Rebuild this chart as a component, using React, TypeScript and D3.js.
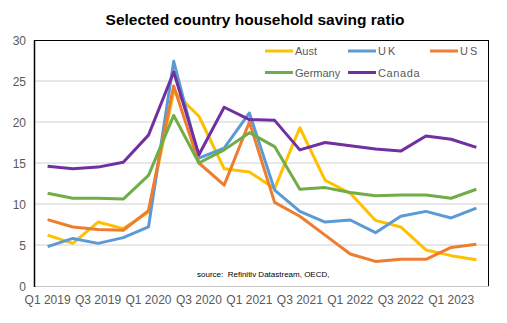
import React from "react";
import * as d3 from "d3";

const quarters = [
  "Q1 2019", "Q2 2019", "Q3 2019", "Q4 2019",
  "Q1 2020", "Q2 2020", "Q3 2020", "Q4 2020",
  "Q1 2021", "Q2 2021", "Q3 2021", "Q4 2021",
  "Q1 2022", "Q2 2022", "Q3 2022", "Q4 2022",
  "Q1 2023", "Q2 2023",
];

const aust = [6.2, 5.2, 7.8, 7.0, 9.0, 23.7, 20.7, 14.3, 13.9, 11.9, 19.3, 12.9, 11.3, 8.0, 7.2, 4.4, 3.7, 3.2];
const uk = [4.8, 5.8, 5.2, 5.9, 7.2, 27.4, 15.6, 16.8, 21.1, 11.7, 9.1, 7.8, 8.05, 6.5, 8.5, 9.1, 8.3, 9.5];
const us = [8.1, 7.2, 6.9, 6.8, 9.2, 24.4, 15.0, 12.3, 20.0, 10.2, 8.5, 6.2, 3.9, 3.0, 3.25, 3.25, 4.7, 5.1];
const germany = [11.3, 10.7, 10.7, 10.6, 13.5, 20.8, 15.0, 16.6, 18.7, 17.0, 11.8, 12.0, 11.4, 11.0, 11.1, 11.1, 10.7, 11.8];
const canada = [14.6, 14.3, 14.5, 15.1, 18.4, 26.1, 16.0, 21.8, 20.3, 20.2, 16.6, 17.5, 17.1, 16.7, 16.45, 18.3, 17.9, 16.9];

const yTicks = [0, 5, 10, 15, 20, 25, 30];

const series = [
  { name: "Aust", values: aust, color: "#FFC000" },
  { name: "UK", values: uk, color: "#5B9BD5" },
  { name: "US", values: us, color: "#ED7D31" },
  { name: "Germany", values: germany, color: "#70AD47" },
  { name: "Canada", values: canada, color: "#7030A0" },
];

const W = 507, H = 323;
const L = 35, R = 489, T = 40, B = 286;
const FONT = "'Liberation Sans', Arial, sans-serif";

export default function App() {
  const x = d3.scaleBand<string>().domain(quarters).range([L, R]);
  const y = d3.scaleLinear().domain([0, 30]).range([B, T]);
  const line = d3
    .line<number>()
    .x((_, i) => (x(quarters[i]) as number) + x.bandwidth() / 2)
    .y((d) => y(d));

  const legendPos = [
    { lx: 265, ly: 51 },
    { lx: 348, ly: 51 },
    { lx: 430, ly: 51 },
    { lx: 265, ly: 72.5 },
    { lx: 348, ly: 72.5 },
  ];

  return (
    <svg
      width={W}
      height={H}
      style={{ position: "absolute", left: 0, top: 0, background: "#fff" }}
      fontFamily={FONT}
    >
      <rect x={0} y={0} width={W} height={H} fill="#fff" />
      <text x={255} y={25} textAnchor="middle" fontSize={15.5} fontWeight="bold" fill="#000">
        Selected country household saving ratio
      </text>
      {yTicks.slice(1, -1).map((t) => (
        <line key={t} x1={L} x2={R} y1={y(t)} y2={y(t)} stroke="#d0d0d0" strokeWidth={1} />
      ))}
      <line x1={L} x2={R} y1={B + 0.5} y2={B + 0.5} stroke="#c8c8c8" strokeWidth={1} />
      <line x1={L} x2={R} y1={T + 0.5} y2={T + 0.5} stroke="#000" strokeWidth={1} />
      <line x1={R - 0.5} x2={R - 0.5} y1={T} y2={B} stroke="#000" strokeWidth={1} />
      <line x1={L - 0.5} x2={L - 0.5} y1={T} y2={B + 1} stroke="#000" strokeWidth={1.5} />
      {yTicks.map((t) => (
        <text key={t} x={26} y={y(t) + 4.5} textAnchor="end" fontSize={12} fill="#595959">
          {t}
        </text>
      ))}
      {quarters.map((q, i) =>
        i % 2 === 0 ? (
          <text
            key={q}
            x={(x(q) as number) + x.bandwidth() / 2}
            y={304}
            textAnchor="middle"
            fontSize={12}
            fill="#595959"
          >
            {q}
          </text>
        ) : null
      )}
      <text x={197} y={277} fontSize={8} fill="#000">
        {"source:\u00a0\u00a0Refinitiv Datastream, OECD,"}
      </text>
      {series.map((s) => (
        <path
          key={s.name}
          d={line(s.values) || ""}
          fill="none"
          stroke={s.color}
          strokeWidth={3}
          strokeLinejoin="round"
        />
      ))}
      {series.map((s, i) => (
        <g key={s.name}>
          <line
            x1={legendPos[i].lx}
            x2={legendPos[i].lx + 28}
            y1={legendPos[i].ly}
            y2={legendPos[i].ly}
            stroke={s.color}
            strokeWidth={3}
          />
          <text
            x={legendPos[i].lx + 30}
            y={legendPos[i].ly + 4}
            fontSize={11}
            fill="#595959"
            letterSpacing={s.name === "UK" || s.name === "US" ? 2 : s.name === "Canada" ? 0.6 : 0}
          >
            {s.name}
          </text>
        </g>
      ))}
    </svg>
  );
}
